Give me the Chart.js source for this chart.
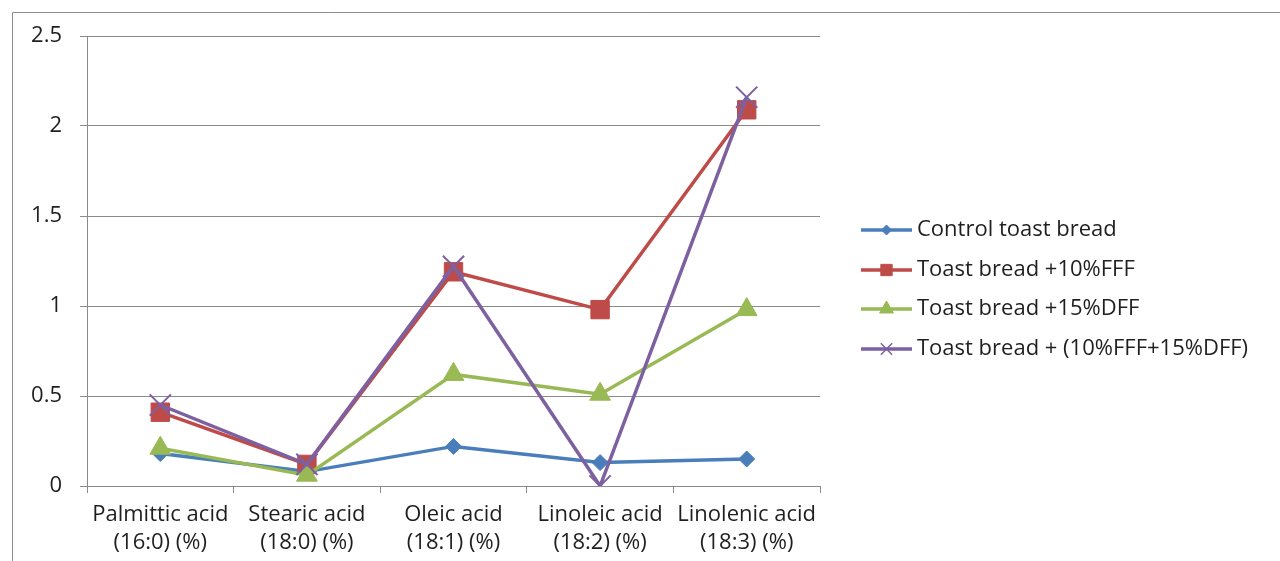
<!DOCTYPE html>
<html>
<head>
<meta charset="utf-8">
<script src="https://cdn.jsdelivr.net/npm/chart.js@4.4.1/dist/chart.umd.min.js"></script>
<style>
  html, body { margin: 0; padding: 0; background: #ffffff; }
  #wrap { position: relative; width: 1280px; height: 561px; }
</style>
</head>
<body>
<div id="wrap"><canvas id="fattyChart" width="1280" height="561"></canvas></div>
<script>
// categories and values
const categories = [
    ['Palmittic acid', '(16:0) (%)'],
    ['Stearic acid', '(18:0) (%)'],
    ['Oleic acid', '(18:1) (%)'],
    ['Linoleic acid', '(18:2) (%)'],
    ['Linolenic acid', '(18:3) (%)']
];
const seriesNames = [
    'Control toast bread',
    'Toast bread +10%FFF',
    'Toast bread +15%DFF',
    'Toast bread + (10%FFF+15%DFF)'
];
const controlValues = [0.18, 0.08, 0.22, 0.13, 0.15];
const fffValues = [0.41, 0.12, 1.19, 0.98, 2.09];
const dffValues = [0.21, 0.06, 0.62, 0.51, 0.98];
const mixValues = [0.45, 0.12, 1.22, 0.00, 2.16];
const yTicks = [0, 0.5, 1, 1.5, 2, 2.5];

const colors = ['#4a7ebb', '#be4b48', '#98b954', '#7d60a0'];
const markers = ['rectRot', 'rect', 'triangle', 'crossRot'];
const markerSizes = [8, 13, 12, 15];
const legendSizes = [5, 8, 8, 8];

const FONT = '"Open Sans", "Liberation Sans", sans-serif';
const FONT_SIZE = 22;
const TEXT = '#1f1f1f';
const AXIS_GREY = '#8a8a8a';

function makeDataset(i, values) {
    return {
        label: seriesNames[i],
        data: values,
        borderColor: colors[i],
        backgroundColor: colors[i],
        pointBackgroundColor: colors[i],
        pointBorderColor: colors[i],
        pointStyle: markers[i],
        pointRadius: markerSizes[i],
        pointHoverRadius: markerSizes[i],
        pointBorderWidth: markers[i] === 'crossRot' ? 2 : 1,
        borderWidth: 3.5,
        tension: 0,
        fill: false,
        order: 4 - i
    };
}

// frame lines at top/left like the pasted excel chart
const framePlugin = {
    id: 'frame',
    beforeDraw(chart) {
        const ctx = chart.ctx;
        ctx.save();
        ctx.strokeStyle = '#8c8c8c';
        ctx.lineWidth = 1;
        ctx.beginPath();
        ctx.moveTo(12.5, 561);
        ctx.lineTo(12.5, 12.5);
        ctx.lineTo(1280, 12.5);
        ctx.stroke();
        ctx.restore();
    }
};

// legend drawn as line + marker like excel
const legendPlugin = {
    id: 'excelLegend',
    afterDraw(chart) {
        const ctx = chart.ctx;
        const x0 = 861, x1 = 912, textX = 917;
        const rows = [230, 270, 309, 349];
        ctx.save();
        chart.data.datasets.forEach((ds, i) => {
            const y = rows[i];
            ctx.strokeStyle = colors[i];
            ctx.lineWidth = 3.5;
            ctx.beginPath();
            ctx.moveTo(x0, y);
            ctx.lineTo(x1, y);
            ctx.stroke();
            ctx.fillStyle = colors[i];
            ctx.lineWidth = markers[i] === 'crossRot' ? 1.5 : 1;
            Chart.helpers.drawPoint(ctx, {
                pointStyle: markers[i],
                radius: legendSizes[i],
                rotation: 0,
                borderWidth: 1
            }, (x0 + x1) / 2, y);
            ctx.fillStyle = TEXT;
            ctx.font = FONT_SIZE + 'px ' + FONT;
            ctx.textBaseline = 'middle';
            ctx.textAlign = 'left';
            ctx.fillText(ds.label, textX, y);
        });
        ctx.restore();
    }
};

const ctx = document.getElementById('fattyChart').getContext('2d');
const chartInstance = new Chart(ctx, {
    type: 'line',
    data: {
        labels: categories,
        datasets: [
            makeDataset(0, controlValues),
            makeDataset(1, fffValues),
            makeDataset(2, dffValues),
            makeDataset(3, mixValues)
        ]
    },
    options: {
        responsive: false,
        animation: false,
        layout: { padding: { left: 0, right: 460, top: 36, bottom: 0 } },
        plugins: {
            legend: { display: false },
            tooltip: { enabled: false }
        },
        scales: {
            x: {
                offset: true,
                grid: {
                    offset: true,
                    drawOnChartArea: false,
                    drawTicks: true,
                    tickLength: 7,
                    color: AXIS_GREY
                },
                border: { color: AXIS_GREY, width: 1 },
                ticks: {
                    color: TEXT,
                    font: { family: FONT, size: FONT_SIZE, lineHeight: 1.25 },
                    padding: 8,
                    maxRotation: 0,
                    autoSkip: false
                },
                afterFit: s => { s.height = 75; }
            },
            y: {
                min: 0,
                max: 2.5,
                afterBuildTicks: s => { s.ticks = yTicks.map(v => ({ value: v })); },
                grid: {
                    color: AXIS_GREY,
                    drawTicks: true,
                    tickLength: 7,
                    tickColor: AXIS_GREY
                },
                border: { color: AXIS_GREY, width: 1 },
                ticks: {
                    color: TEXT,
                    font: { family: FONT, size: FONT_SIZE },
                    padding: 18,
                    callback: v => String(v)
                },
                afterFit: s => { s.width = 87; }
            }
        }
    },
    plugins: [framePlugin, legendPlugin]
});
</script>
</body>
</html>
